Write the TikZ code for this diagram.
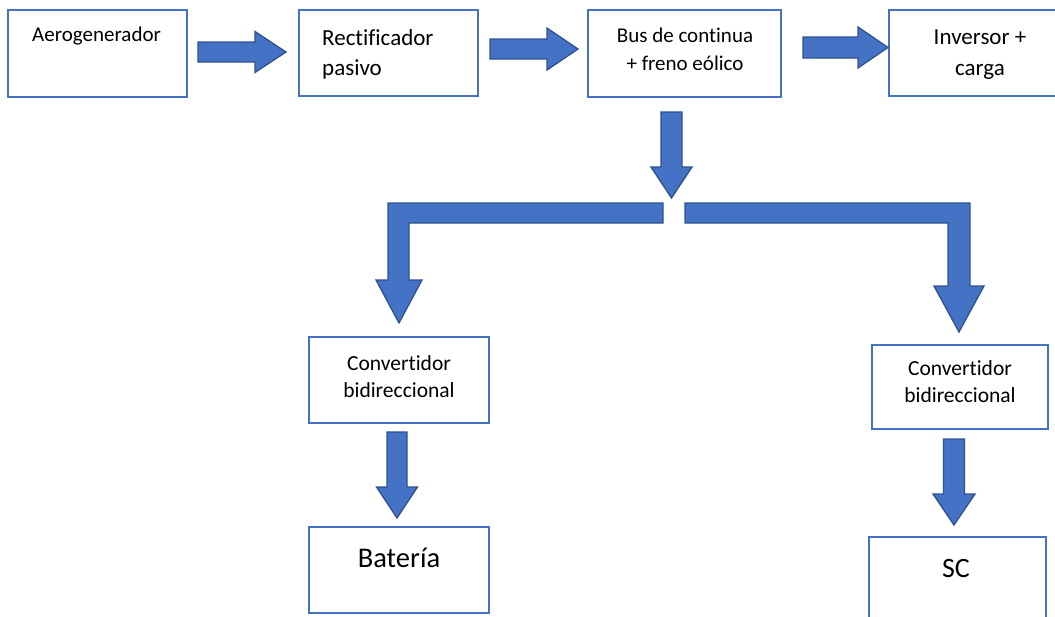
\documentclass[tikz,border=0pt]{standalone}
\usepackage{fontspec}
\setmainfont{Carlito}[Ligatures=NoCommon]
\usepackage{tikz}
\usetikzlibrary{positioning}
\definecolor{cajaazul}{HTML}{4472C4}
\definecolor{flechaazul}{HTML}{4472C4}
\definecolor{bordeazul}{HTML}{2F528F}

\begin{document}
\begin{tikzpicture}[x=1pt,y=-1pt,
	caja/.style={draw=cajaazul, line width=2pt, inner sep=0pt},
	texto/.style={inner sep=0pt, align=center},
	flecha/.style={fill=flechaazul, draw=bordeazul, line width=1.3pt, line join=miter}]
			\useasboundingbox (0,0) rectangle (1055,616);
			\clip (0,0) rectangle (1055,616);
			\node[caja, minimum width=179pt, minimum height=87pt] (aero) at (97.5,53.5) {};
			\node[caja, minimum width=179pt, minimum height=86pt] (rect) at (388.5,53) {};
			\node[caja, minimum width=193pt, minimum height=87pt] (bus) at (684.5,53.5) {};
			\node[caja, minimum width=182pt, minimum height=86pt] (inv) at (980,53) {};
			\node[caja, minimum width=180pt, minimum height=86pt] (convA) at (399,380) {};
			\node[caja, minimum width=176pt, minimum height=84pt] (convB) at (960,387) {};
			\node[caja, minimum width=180pt, minimum height=86pt] (bat) at (399,570) {};
			\node[caja, minimum width=177pt, minimum height=103pt] (sc) at (957.5,588.5) {};
			\node[texto, anchor=base west, font=\fontsize{21}{30}\selectfont] (aerot) at (32,41) {Aerogenerador};
			\node[texto, align=left, anchor=base west, font=\fontsize{23}{30}\selectfont] (rectt) at (322,75) {Rectificador\\pasivo};
			\node[texto, anchor=base, font=\fontsize{21}{28}\selectfont] (bust) at (685,70) {Bus de continua\\+ freno eólico};
			\node[texto, anchor=base, font=\fontsize{23}{31}\selectfont] (invt) at (980,75) {Inversor +\\carga};
			\node[texto, anchor=base, font=\fontsize{21.5}{27}\selectfont] (convAt) at (399,397) {Convertidor\\bidireccional};
			\node[texto, anchor=base, font=\fontsize{21.5}{27}\selectfont] (convBt) at (960,402) {Convertidor\\bidireccional};
			\node[texto, anchor=base, font=\fontsize{28.5}{34}\selectfont] (batt) at (399,567) {Batería};
			\node[texto, anchor=base, font=\fontsize{28}{34}\selectfont] (sct) at (956,577) {SC};
			\draw[flecha] (198,42) -- (255,42) -- (255,31.5) -- (286,52) -- (255,72.5) -- (255,62) -- (198,62) -- cycle;
			\draw[flecha] (490,39) -- (547,39) -- (547,28) -- (578,49) -- (547,70) -- (547,59) -- (490,59) -- cycle;
			\draw[flecha] (803,37) -- (858,37) -- (858,27) -- (888,47.5) -- (858,68) -- (858,58) -- (803,58) -- cycle;
			\draw[flecha] (661,112) -- (682,112) -- (682,167) -- (692,167) -- (671.5,198) -- (651,167) -- (661,167) -- cycle;
			\draw[flecha] (663,203) -- (388,203) -- (388,280) -- (376,280) -- (399,323) -- (422,280) -- (409,280) -- (409,223) -- (663,223) -- cycle;
			\draw[flecha] (685,203) -- (970,203) -- (970,286) -- (984,286) -- (959,332) -- (934,286) -- (948,286) -- (948,223) -- (685,223) -- cycle;
			\draw[flecha] (387,432) -- (407,432) -- (407,487) -- (417.5,487) -- (397,518) -- (376.5,487) -- (387,487) -- cycle;
			\draw[flecha] (943.5,439) -- (964.5,439) -- (964.5,494) -- (975,494) -- (954,525) -- (933,494) -- (943.5,494) -- cycle;
			\end{tikzpicture}
\end{document}
